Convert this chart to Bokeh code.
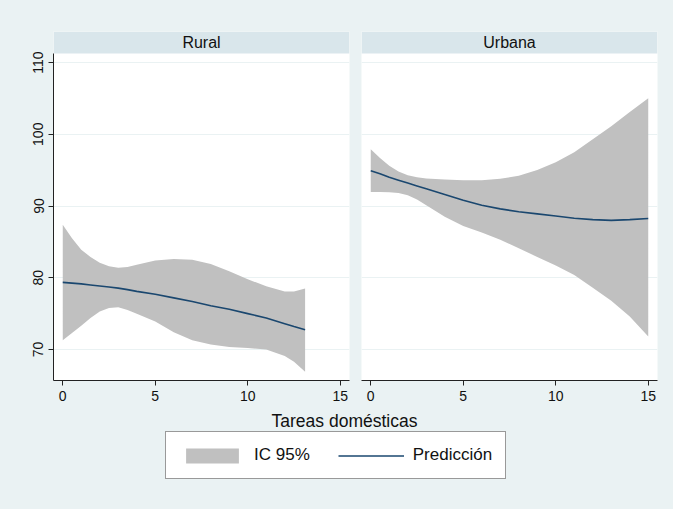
from bokeh.plotting import figure
from bokeh.models import Range1d, FixedTicker, BoxAnnotation, Label, Legend, LegendItem
from bokeh.layouts import column, row
from bokeh.embed import file_html
from bokeh.resources import INLINE

# ---------------- data ----------------
panel_names = ["Rural", "Urbana"]

rural_x = [0, 0.5, 1, 1.5, 2, 2.5, 3, 3.5, 4, 5, 6, 7, 8, 9, 10, 11, 12, 12.5, 13.1]
rural_pred = [79.35, 79.25, 79.15, 79.0, 78.85, 78.7, 78.55, 78.35, 78.1, 77.7, 77.2,
              76.7, 76.1, 75.6, 75.0, 74.4, 73.6, 73.2, 72.75]
rural_lo = [71.3, 72.3, 73.3, 74.4, 75.3, 75.8, 75.9, 75.5, 75.0, 73.9, 72.4,
            71.3, 70.7, 70.35, 70.2, 70.0, 69.1, 68.3, 66.9]
rural_hi = [87.4, 85.5, 83.9, 82.9, 82.1, 81.6, 81.4, 81.5, 81.8, 82.4, 82.6,
            82.5, 81.9, 80.9, 79.8, 78.8, 78.1, 78.1, 78.5]

urbana_x = [0, 0.5, 1, 1.5, 2, 2.5, 3, 4, 5, 6, 7, 8, 9, 10, 11, 12, 13, 14, 15]
urbana_pred = [94.9, 94.5, 94.0, 93.6, 93.2, 92.8, 92.4, 91.6, 90.8, 90.1, 89.6,
               89.2, 88.9, 88.6, 88.3, 88.1, 88.0, 88.1, 88.25]
urbana_lo = [91.95, 91.95, 91.9, 91.8, 91.5, 90.9, 90.1, 88.5, 87.2, 86.3, 85.3,
             84.1, 82.9, 81.7, 80.4, 78.6, 76.8, 74.6, 71.8]
urbana_hi = [97.9, 96.7, 95.6, 94.8, 94.3, 94.0, 93.85, 93.7, 93.6, 93.6, 93.8,
             94.2, 95.0, 96.1, 97.5, 99.3, 101.1, 103.1, 105.0]

y_ticks = [70, 80, 90, 100, 110]
x_ticks = [0, 5, 10, 15]
x_title = "Tareas domésticas"
legend_labels = ["IC 95%", "Predicción"]

# ---------------- style ----------------
BG = "#EAF2F3"
STRIP = "#D9E6EB"
BAND = "#C0C0C0"
NAVY = "#1A476F"
AXIS = "#222222"
TEXT = "#111111"
FONT = "Liberation Sans"

X_RANGE = (-0.5, 15.5)
Y_RANGE = (65.68, 114.32)
STRIP_BOTTOM = 111.25


def make_panel(name, xs, lo, hi, pred, width, mb_left, mb_right, show_y):
    p = figure(width=width, height=408,
               x_range=Range1d(*X_RANGE), y_range=Range1d(*Y_RANGE),
               toolbar_location=None, output_backend="svg",
               min_border_left=mb_left, min_border_right=mb_right,
               min_border_top=31, min_border_bottom=28,
               styles={"background-color": BG})
    p.background_fill_color = "white"
    p.border_fill_color = BG
    p.outline_line_color = None

    p.varea(x=xs, y1=lo, y2=hi, fill_color=BAND, fill_alpha=1)
    p.line(x=xs, y=pred, line_color=NAVY, line_width=1.6)

    # strip header
    p.add_layout(BoxAnnotation(bottom=STRIP_BOTTOM, fill_color=STRIP, fill_alpha=1,
                               line_color=None, level="underlay"))
    p.add_layout(Label(x=sum(X_RANGE) / 2, y=(STRIP_BOTTOM + Y_RANGE[1]) / 2, text=name,
                       text_align="center", text_baseline="middle",
                       text_font=FONT, text_font_size="16px", text_color=TEXT))

    p.xgrid.visible = False
    p.ygrid.ticker = FixedTicker(ticks=y_ticks)
    p.ygrid.grid_line_color = BG
    p.ygrid.grid_line_width = 1

    xa = p.xaxis[0]
    xa.ticker = FixedTicker(ticks=x_ticks)
    xa.axis_line_color = AXIS
    xa.major_tick_line_color = AXIS
    xa.major_tick_out = 5
    xa.major_tick_in = 0
    xa.minor_tick_line_color = None
    xa.major_label_text_font = FONT
    xa.major_label_text_font_size = "14px"
    xa.major_label_text_color = TEXT
    xa.major_label_standoff = 5

    ya = p.yaxis[0]
    if show_y:
        ya.ticker = FixedTicker(ticks=y_ticks)
        ya.bounds = (Y_RANGE[0], STRIP_BOTTOM)
        ya.axis_line_color = AXIS
        ya.major_tick_line_color = AXIS
        ya.major_tick_out = 5
        ya.major_tick_in = 0
        ya.minor_tick_line_color = None
        ya.major_label_orientation = "vertical"
        ya.major_label_text_font = FONT
        ya.major_label_text_font_size = "14px"
        ya.major_label_text_color = TEXT
        ya.major_label_standoff = 5
    else:
        ya.visible = False
    return p


p1 = make_panel(panel_names[0], rural_x, rural_lo, rural_hi, rural_pred, 355, 53, 6, True)
p2 = make_panel(panel_names[1], urbana_x, urbana_lo, urbana_hi, urbana_pred, 318, 6, 16, False)

# bottom strip: shared axis title + legend
p3 = figure(width=673, height=101, x_range=Range1d(0, 673), y_range=Range1d(0, 101),
            toolbar_location=None, output_backend="svg", min_border=0,
            styles={"background-color": BG})
p3.axis.visible = False
p3.grid.visible = False
p3.outline_line_color = None
p3.background_fill_color = BG
p3.border_fill_color = BG

p3.add_layout(Label(x=344, y=89, text=x_title, text_align="center", text_baseline="middle",
                    text_font=FONT, text_font_size="17.5px", text_color=TEXT))

# legend keys (hidden renderers carrying the same styles as the panels)
r_band = p3.varea(x=rural_x, y1=rural_lo, y2=rural_hi, fill_color=BAND, fill_alpha=1, visible=False)
r_line = p3.line(x=rural_x, y=rural_pred, line_color=NAVY, line_width=1.6, visible=False)
legend = Legend(items=[LegendItem(label=legend_labels[0], renderers=[r_band]),
                       LegendItem(label=legend_labels[1], renderers=[r_line])],
                orientation="horizontal", location=(165, 30))
legend.border_line_color = "#333333"
legend.border_line_width = 1
legend.background_fill_color = "white"
legend.background_fill_alpha = 1
legend.inactive_fill_alpha = 0
legend.label_text_font = FONT
legend.label_text_font_size = "17px"
legend.label_text_color = TEXT
legend.glyph_width = 66
legend.glyph_height = 19
legend.label_height = 19
legend.label_standoff = 9
legend.spacing = 28
legend.padding = 13
legend.margin = 0
p3.add_layout(legend)

layout = column(row(p1, p2, styles={"background-color": BG}), p3,
                styles={"background-color": BG})
open("out.html", "w").write(file_html(layout, INLINE))
